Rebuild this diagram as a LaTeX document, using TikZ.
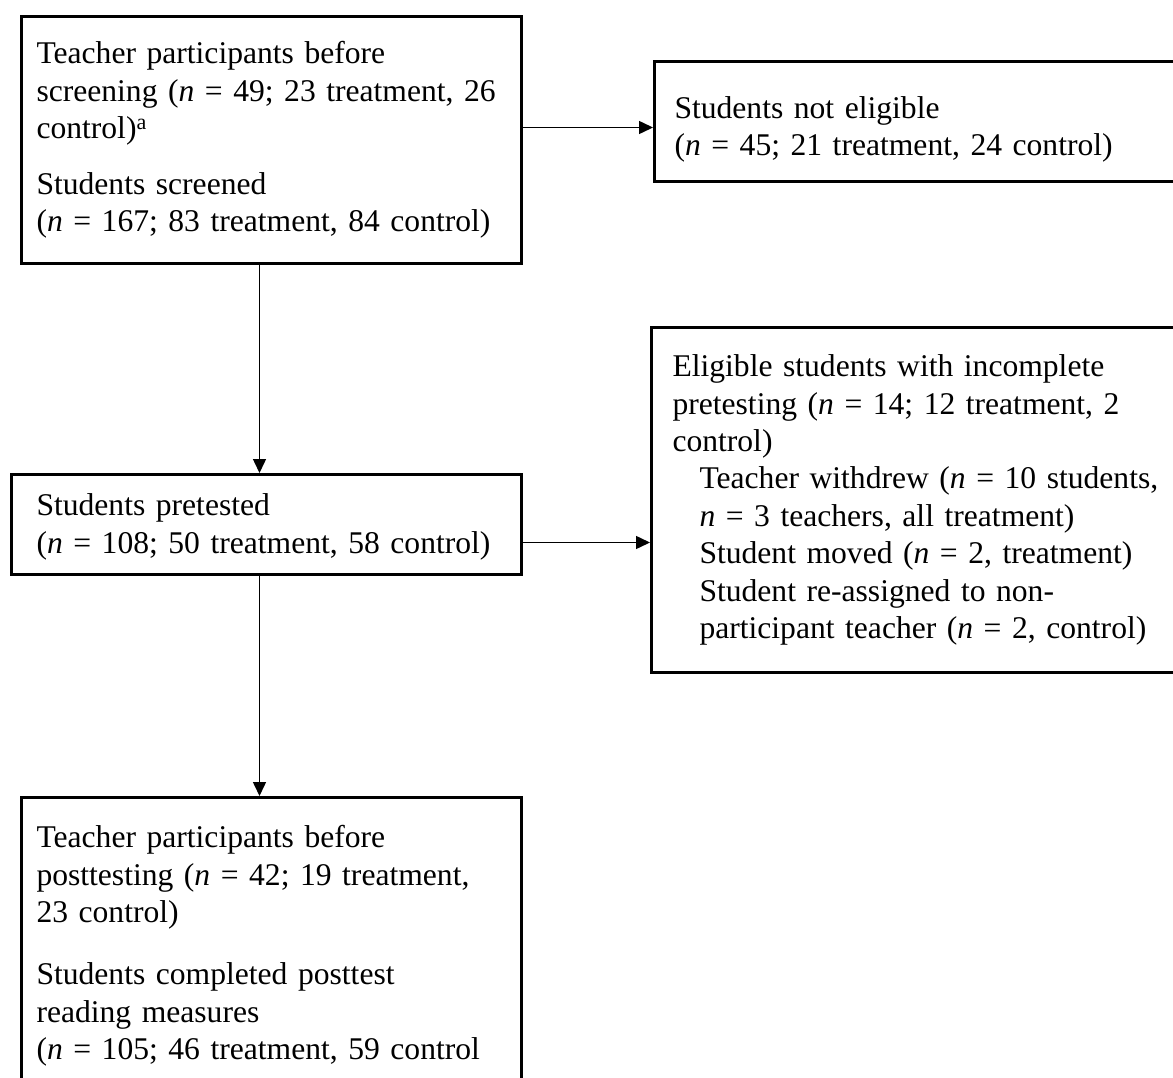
\documentclass[tikz,border=0pt]{standalone}
\usepackage{fontspec}
\setmainfont{Liberation Serif}
\usetikzlibrary{positioning,arrows.meta}
\hyphenpenalty=10000
\tikzstyle{line} = [draw, line width=1.5pt, -{Triangle[length=14pt,width=13pt]}]
\tikzstyle{flowbox} = [draw, line width=3pt, anchor=north west, align=left, inner ysep=4pt, font=\fontsize{31.6}{37.4}\selectfont]
\newcommand{\nsym}{\textit{n}}
\newcommand{\ind}{\hspace*{27pt}}
\begin{document}
\begin{tikzpicture}[x=1pt, y=1pt]
		\useasboundingbox (0,0) rectangle (1173,-1078);
		\clip (0,0) rectangle (1173,-1078);
		
		\node[flowbox, inner xsep=15pt, text width=470pt, minimum height=247pt] (screen) at (20,-15)
			{Teacher participants before\\ screening (\nsym{} = 49; 23 treatment, 26\\ control)\textsuperscript{a}\\[18pt] Students screened\\ (\nsym{} = 167; 83 treatment, 84 control)};
		
		\node[flowbox, inner xsep=20pt, text width=510pt, minimum height=120pt, right=130pt of screen.north east, anchor=north west, yshift=-45pt] (notelig)
			{\rule{0pt}{38pt}Students not eligible\\ (\nsym{} = 45; 21 treatment, 24 control)};
		\path [line] ([yshift=-6pt]notelig.west -| screen.east) -- ([yshift=-6pt]notelig.west);
		
		\node[flowbox, inner xsep=25pt, text width=460pt, minimum height=100pt, below=208pt of screen.south west, anchor=north west, xshift=-10pt] (pretest)
			{\rule{0pt}{27pt}Students pretested\\ (\nsym{} = 108; 50 treatment, 58 control)};
		\path [line] ([xshift=-12pt]screen.south) -- ([xshift=-12pt]screen.south |- pretest.north);
		
		\node[flowbox, inner xsep=21pt, text width=511pt, minimum height=345pt, right=127pt of pretest.north east, anchor=north west, yshift=147pt] (incomp)
			{Eligible students with incomplete\\ pretesting (\nsym{} = 14; 12 treatment, 2\\ control)\\
			\ind Teacher withdrew (\nsym{} = 10 students,\\ \ind\nsym{} = 3 teachers, all treatment)\\
			\ind Student moved (\nsym{} = 2, treatment)\\ \ind Student re-assigned to non-\\
			\ind participant teacher (\nsym{} = 2, control)};
		\path [line] ([yshift=-18pt]pretest.east) -- ([yshift=-18pt]pretest.east -| incomp.west);
		
		\node[flowbox, inner xsep=15pt, inner ysep=28pt, text width=470pt, below=220pt of pretest.south west, anchor=north west, xshift=10pt] (posttest)
			{Teacher participants before\\ posttesting (\nsym{} = 42; 19 treatment,\\ 23 control)\\[25pt] Students completed posttest\\ reading measures\\ (\nsym{} = 105; 46 treatment, 59 control};
		\path [line] ([xshift=-7pt]pretest.south) -- ([xshift=-7pt]pretest.south |- posttest.north);
		
\end{tikzpicture}
\end{document}
